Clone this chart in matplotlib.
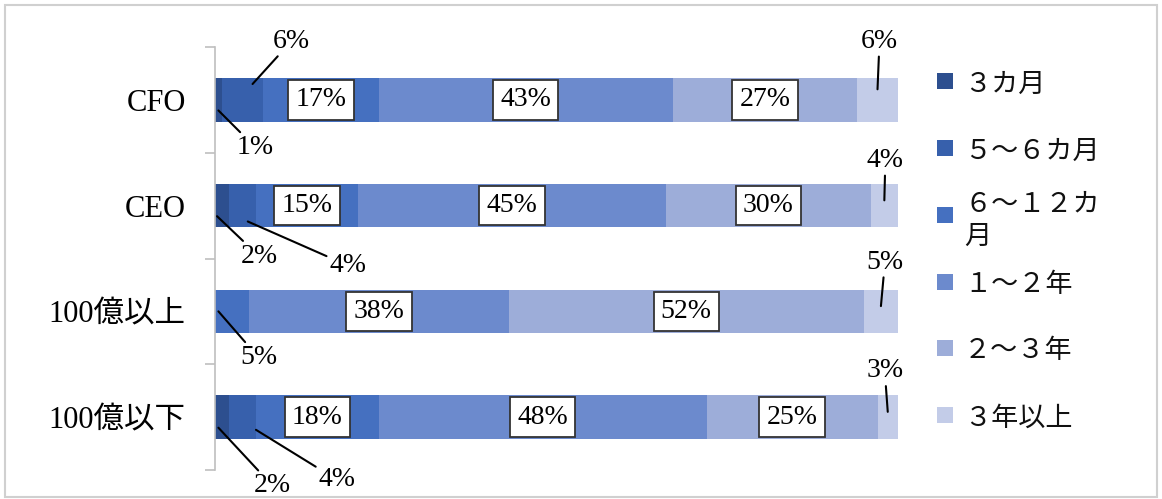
import matplotlib
matplotlib.use('Agg')
import matplotlib.pyplot as plt
from matplotlib.patches import Rectangle
import numpy as np

# ---- data ----
categories = ['CFO', 'CEO', '100億以上', '100億以下']
series_names = ['３カ月', '５～６カ月', '６～１２カ\n月', '１～２年', '２～３年', '３年以上']
m3 = [1, 2, 0, 2]
m5_6 = [6, 4, 0, 4]
m6_12 = [17, 15, 5, 18]
y1_2 = [43, 45, 38, 48]
y2_3 = [27, 30, 52, 25]
y3_plus = [6, 4, 5, 3]

# ---- styling ----
colors = ['#2D4F8F', '#3760AC', '#4570C0', '#6C8ACD', '#9DADD9', '#C3CCE8']
SERIF = ['Liberation Serif', 'Noto Sans CJK JP']
CJK = ['Noto Sans CJK JP', 'DejaVu Sans']
FS = 20

W, H = 1162, 499
fig = plt.figure(figsize=(W / 100, H / 100), dpi=100)
ax = fig.add_axes([215 / W, 1 - 470 / H, (898 - 215) / W, (470 - 47) / H])

data = [m3, m5_6, m6_12, y1_2, y2_3, y3_plus]
ypos = np.arange(len(categories))
left = np.zeros(len(categories))
lefts = []
for name, vals, col in zip(series_names, data, colors):
    vals = np.array(vals, dtype=float)
    ax.barh(ypos, vals, left=left, height=0.41, color=col, label=name, linewidth=0)
    lefts.append(left.copy())
    left += vals

ax.set_xlim(0, 100)
ax.set_ylim(len(categories) - 0.5, -0.5)

# boxed labels for large segments
for si, vals in enumerate(data):
    for ci, v in enumerate(vals):
        if v >= 10:
            ax.text(lefts[si][ci] + v / 2, ci, f'{v}%', ha='center', va='center',
                    fontsize=FS, family=SERIF,
                    bbox=dict(boxstyle='square,pad=0.26', fc='white', ec='#333333', lw=1.3))

# callout labels: (series, category) -> (frac of segment, y shift, text offset px)
callouts = {
    (0, 0): (0.5, 0.10, 37, -37),
    (1, 0): (0.75, -0.15, 39, 43),
    (5, 0): (0.5, -0.10, 2, 48),
    (0, 1): (0.15, 0.10, 42, -40),
    (1, 1): (0.7, 0.15, 100, -44),
    (5, 1): (0.5, -0.05, 1, 40),
    (2, 2): (0.1, 0.0, 40, -46),
    (5, 2): (0.5, -0.05, 4, 44),
    (0, 3): (0.25, 0.10, 54, -58),
    (1, 3): (1.0, 0.12, 81, -50),
    (5, 3): (0.5, -0.05, -3, 41),
}
for (si, ci), (fx, dy, ox, oy) in callouts.items():
    v = data[si][ci]
    ax.annotate(f'{v}%', xy=(lefts[si][ci] + v * fx, ci + dy),
                xytext=(ox, oy), textcoords='offset pixels',
                ha='center', va='center', fontsize=FS, family=SERIF,
                arrowprops=dict(arrowstyle='-', color='black', lw=1.5,
                                shrinkA=0, shrinkB=0))

# axes styling
for s in ['top', 'right', 'bottom']:
    ax.spines[s].set_visible(False)
ax.spines['left'].set_color('#BFBFBF')
ax.spines['left'].set_linewidth(1.2)
ax.set_xticks([])
ax.set_yticks(ypos)
ax.set_yticklabels(categories, family=SERIF, fontsize=22)
ax.tick_params(axis='y', which='major', length=0, pad=21)
ax.set_yticks(np.arange(-0.5, len(categories)), minor=True)
ax.tick_params(axis='y', which='minor', length=7, color='#BFBFBF', width=1.2)

# legend (drawn by hand to mimic wrapped entry)
leg_y = [81, 148, 215, 282, 348, 415]
for name, col, yy in zip(series_names, colors, leg_y):
    fig.add_artist(Rectangle((937 / W, 1 - (yy + 8) / H), 16 / W, 16 / H,
                             transform=fig.transFigure, color=col, lw=0))
    fig.text(964 / W, 1 - yy / H, name, ha='left', va='center_baseline',
             fontsize=19.5, family=CJK, linespacing=1.25, color='#111111')

# outer frame
fig.add_artist(Rectangle((5 / W, 1 - 497 / H), (1157 - 5) / W, (497 - 5) / H,
                         transform=fig.transFigure, fill=False, ec='#D0D0D0', lw=1.5))

fig.savefig('out.png', dpi=100)
